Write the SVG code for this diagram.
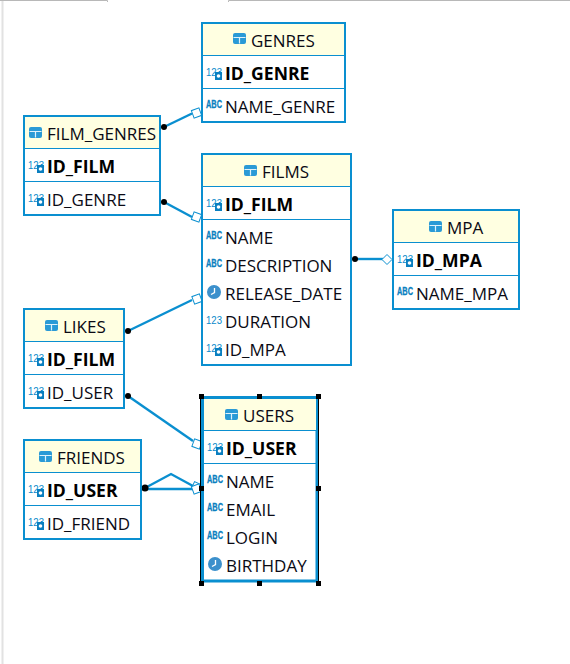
<svg xmlns="http://www.w3.org/2000/svg" xmlns:xlink="http://www.w3.org/1999/xlink" width="570" height="664" viewBox="0 0 570 664">
<style>
text{font-family:"Open Sans","Noto Sans","Liberation Sans",sans-serif;fill:#0a0a14}
.t{font-size:17px}
.k{font-size:17.6px;font-weight:700;fill:#000}
.i{font-size:11px;fill:#0a8acb;font-family:"Liberation Sans",sans-serif}
.ib{font-size:10px;font-weight:700;fill:#0a7fc0;stroke:#0a7fc0;stroke-width:.3;font-family:"Liberation Sans",sans-serif}
.box{fill:#fff;stroke:#0a8fd0;stroke-width:2}
.hd{fill:#ffffe1}
.sep{stroke:#0a8fd0;stroke-width:1;fill:none}
.ln{stroke:#0a8fd0;stroke-width:2.4;fill:none}
.dia{fill:#fff;stroke:#0a8fd0;stroke-width:1}
.h{fill:#000}
</style>
<defs>
<g id="tb"><rect x="0" y="0" width="13" height="11" rx="2" fill="#2a9ad6"/><path d="M0.500 4.500H12.500M6.500 4.500V10.500" stroke="#dff1fb" stroke-width="1.200"/></g>
<g id="num"><text class="i" x="0" y="9" textLength="16" lengthAdjust="spacingAndGlyphs">123</text><rect x="9" y="5" width="7" height="8" fill="#0a7fc0"/><circle cx="12.500" cy="9" r="1.800" fill="#fff"/></g>
<text id="abc" class="ib" x="0" y="0" textLength="16" lengthAdjust="spacingAndGlyphs">ABC</text>
<g id="clk"><circle cx="7" cy="7" r="7" fill="#3c90cc"/><path d="M7.500 3V7.500L4 9.500" stroke="#fff" stroke-width="1.300" fill="none"/></g>
</defs>
<path d="M0 .5H107.500V2M228.500 2V.5H570" stroke="#b8b8b8" stroke-width="1" fill="none"/>
<path d="M2.500 1V664" stroke="#e2e2e2" stroke-width="2" fill="none"/>
<g id="connectors">
<path class="ln" d="M164 127L192 113.500"/><circle class="h" cx="164" cy="127" r="3"/><rect class="dia" x="192.500" y="109" width="8" height="8" transform="rotate(-20 196.500 113)"/>
<path class="ln" d="M164 202L192 217"/><circle class="h" cx="164" cy="202" r="3"/><rect class="dia" x="192.500" y="213" width="8" height="8" transform="rotate(20 196.500 217)"/>
<path class="ln" d="M128 331L192 300"/><circle class="h" cx="128" cy="331" r="3"/><rect class="dia" x="193" y="295" width="8" height="8" transform="rotate(-20 197 299)"/>
<path class="ln" d="M128 396L193 441"/><circle class="h" cx="128" cy="396" r="3"/><rect class="dia" x="193" y="440" width="8" height="8" transform="rotate(20 197 444)"/>
<path class="ln" d="M355 259H383"/><circle class="h" cx="355" cy="259" r="3"/><path class="dia" d="M382 259.500L387 254.500L392 259.500L387 264.500Z"/>
<path class="ln" d="M145 488L171 474L193 486M145 489H193"/><circle class="h" cx="145" cy="488" r="3.500"/><rect class="dia" x="192.500" y="483" width="8" height="8" transform="rotate(25 196.500 487)"/><rect class="dia" x="192.500" y="485" width="8" height="8" transform="rotate(-20 196.500 489)"/>
</g>
<g id="GENRES">
<rect class="box" x="202" y="23" width="143" height="99"/><rect class="hd" x="203" y="24" width="141" height="31"/>
<path class="sep" d="M203 55.500H344M203 88.500H344"/>
<use xlink:href="#tb" x="233" y="33"/><text class="t" x="251" y="47">GENRES</text>
<use xlink:href="#num" x="206" y="67"/><text class="k" x="225" y="80">ID_GENRE</text>
<use xlink:href="#abc" x="206" y="108"/><text class="t" x="225" y="113">NAME_GENRE</text>
</g>
<g id="FILM_GENRES">
<rect class="box" x="24" y="116" width="136" height="99"/><rect class="hd" x="25" y="117" width="134" height="31"/>
<path class="sep" d="M25 148.500H159M25 181.500H159"/>
<use xlink:href="#tb" x="29" y="127"/><text class="t" x="47" y="140">FILM_GENRES</text>
<use xlink:href="#num" x="28" y="160"/><text class="k" x="47" y="173">ID_FILM</text>
<use xlink:href="#num" x="28" y="193"/><text class="t" x="47" y="206">ID_GENRE</text>
</g>
<g id="FILMS">
<rect class="box" x="202" y="154" width="149" height="211"/><rect class="hd" x="203" y="155" width="147" height="31"/>
<path class="sep" d="M203 186.500H350M203 219.500H350"/>
<use xlink:href="#tb" x="244" y="165"/><text class="t" x="262" y="178">FILMS</text>
<use xlink:href="#num" x="206" y="198"/><text class="k" x="225" y="211">ID_FILM</text>
<use xlink:href="#abc" x="206" y="239"/><text class="t" x="225" y="244">NAME</text>
<use xlink:href="#abc" x="206" y="267"/><text class="t" x="225" y="272">DESCRIPTION</text>
<use xlink:href="#clk" x="207" y="285"/><text class="t" x="225" y="300">RELEASE_DATE</text>
<text class="i" x="206" y="324" textLength="16" lengthAdjust="spacingAndGlyphs">123</text><text class="t" x="225" y="328">DURATION</text>
<use xlink:href="#num" x="206" y="343"/><text class="t" x="225" y="356">ID_MPA</text>
</g>
<g id="MPA">
<rect class="box" x="393" y="210" width="126" height="99"/><rect class="hd" x="394" y="211" width="124" height="31"/>
<path class="sep" d="M394 242.500H518M394 275.500H518"/>
<use xlink:href="#tb" x="429" y="221"/><text class="t" x="447" y="234">MPA</text>
<use xlink:href="#num" x="397" y="254"/><text class="k" x="416" y="267">ID_MPA</text>
<use xlink:href="#abc" x="397" y="295"/><text class="t" x="416" y="300">NAME_MPA</text>
</g>
<g id="LIKES">
<rect class="box" x="24" y="309" width="100" height="99"/><rect class="hd" x="25" y="310" width="98" height="31"/>
<path class="sep" d="M25 341.500H123M25 374.500H123"/>
<use xlink:href="#tb" x="45" y="320"/><text class="t" x="63" y="333">LIKES</text>
<use xlink:href="#num" x="28" y="353"/><text class="k" x="47" y="366">ID_FILM</text>
<use xlink:href="#num" x="28" y="386"/><text class="t" x="47" y="399">ID_USER</text>
</g>
<g id="USERS">
<rect class="box" x="202.500" y="397.500" width="114.500" height="183.500" style="stroke-width:3"/><rect class="hd" x="204" y="399" width="112" height="31"/>
<path class="sep" d="M204 430.500H316M204 463.500H316"/>
<use xlink:href="#tb" x="225" y="409"/><text class="t" x="243" y="422">USERS</text>
<use xlink:href="#num" x="207" y="442"/><text class="k" x="226" y="455">ID_USER</text>
<use xlink:href="#abc" x="207" y="483"/><text class="t" x="226" y="488">NAME</text>
<use xlink:href="#abc" x="207" y="511"/><text class="t" x="226" y="516">EMAIL</text>
<use xlink:href="#abc" x="207" y="539"/><text class="t" x="226" y="544">LOGIN</text>
<use xlink:href="#clk" x="208" y="557"/><text class="t" x="226" y="572">BIRTHDAY</text>
<path d="M200.500 398V581M318.500 398V581" stroke="#000" stroke-width="1" fill="none"/>
<path class="h" d="M199 394h5v5h-5zM257 394h5v5h-5zM316 394h5v5h-5zM199 486h5v5h-5zM316 486h5v5h-5zM199 581h5v5h-5zM257 581h5v5h-5zM316 581h5v5h-5z"/>
</g>
<g id="FRIENDS">
<rect class="box" x="24" y="440" width="117" height="99"/><rect class="hd" x="25" y="441" width="115" height="31"/>
<path class="sep" d="M25 472.500H140M25 505.500H140"/>
<use xlink:href="#tb" x="39" y="451"/><text class="t" x="57" y="464">FRIENDS</text>
<use xlink:href="#num" x="28" y="484"/><text class="k" x="47" y="497">ID_USER</text>
<use xlink:href="#num" x="28" y="517"/><text class="t" x="47" y="530">ID_FRIEND</text>
</g>
</svg>
